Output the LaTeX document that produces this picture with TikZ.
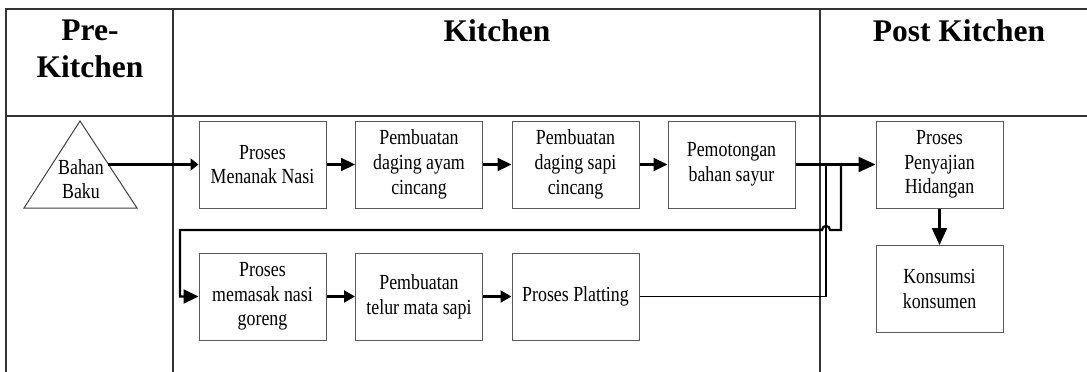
\documentclass[tikz,border=0pt]{standalone}
\usepackage{fontspec}
\setmainfont{Liberation Serif}
\newfontfamily\narrowserif[FakeStretch=0.83]{Liberation Serif}
\usetikzlibrary{arrows.meta}

\begin{document}
\begin{tikzpicture}[x=1pt,y=-1pt,
  lane/.style={draw=black!80, line width=1.1pt},
  body/.style={font=\narrowserif\fontsize{21.5}{24.7}\selectfont},
  stepbox/.style={body, draw=black!65, line width=1pt, minimum width=127pt,
    minimum height=87pt, align=center, inner sep=2pt},
  title/.style={font=\fontsize{31.5}{36.6}\selectfont\bfseries, align=center, inner sep=0pt},
  flow/.style={line width=2.2pt, -{Triangle[length=14pt,width=13pt]}},
  bigflow/.style={line width=2.2pt, -{Triangle[length=17pt,width=15pt]}},
  link/.style={line width=1.7pt}
]
\useasboundingbox (0,0) rectangle (1087,372);
\clip (0,0) rectangle (1087,372);

% swimlane frame
\draw[lane] (6,380) -- (6,9) -- (1095,9);
\draw[lane] (6,116) -- (1095,116);
\draw[lane] (173,9) -- (173,380);
\draw[lane] (820,9) -- (820,380);

% lane titles
\node[title] (preT)  at (90,49)  {Pre-\\Kitchen};
\node[title] (kitT)  at (497,31) {Kitchen};
\node[title] (postT) at (959,31) {Post Kitchen};

% raw material (triangle)
\draw[draw=black!75, line width=1pt] (80,121) -- (137,208) -- (24,208) -- cycle;
\node[body, align=center, inner sep=0pt] (bahan) at (81,179) {Bahan\\Baku};
\coordinate (bahanR) at (108,164.5);

% kitchen steps
\node[stepbox] (p1) at (262.5,164.5) {Proses\\Menanak Nasi};
\node[stepbox] (p2) at (419,164.5)   {Pembuatan\\daging ayam\\cincang};
\node[stepbox] (p3) at (575.5,164.5) {Pembuatan\\daging sapi\\cincang};
\node[stepbox] (p4) at (731.5,164.5) {Pemotongan\\bahan sayur};
\node[stepbox] (p5) at (262.5,296.5) {Proses\\memasak nasi\\goreng};
\node[stepbox] (p6) at (419,296.5)   {Pembuatan\\telur mata sapi};
\node[stepbox] (p7) at (575.5,296.5) {Proses Platting};

% post kitchen steps
\node[stepbox] (s1) at (939.5,164.5) {Proses\\Penyajian\\Hidangan};
\node[stepbox] (s2) at (939.5,289)   {Konsumsi\\konsumen};

% junction points
\coordinate (split) at (841,164.5);
\coordinate (join)  at (826,164.5);
\coordinate (hopR)  at (830,230);
\coordinate (hopL)  at (822,230);
\coordinate (turn)  at (180,230);

% connectors
\draw[line width=2.2pt, -{Triangle[length=8pt,width=12pt]}] (bahanR) -- (p1.west);
\draw[flow] (p1) -- (p2);
\draw[flow] (p2) -- (p3);
\draw[flow] (p3) -- (p4);
\draw[bigflow] (p4.east) -- (s1.west);
\draw[flow, -{Triangle[length=15pt,width=14pt]}] (split) |- (hopR)
  .. controls ([yshift=5.3pt]hopR) and ([yshift=5.3pt]hopL) .. (hopL)
  -- (turn) |- (p5.west);
\draw[flow, -{Triangle[length=11pt,width=12pt]}] (p5) -- (p6);
\draw[flow, -{Triangle[length=11pt,width=12pt]}] (p6) -- (p7);
\draw[link] (p7.east) -| (join);
\draw[bigflow] (s1) -- (s2);
\end{tikzpicture}
\end{document}
